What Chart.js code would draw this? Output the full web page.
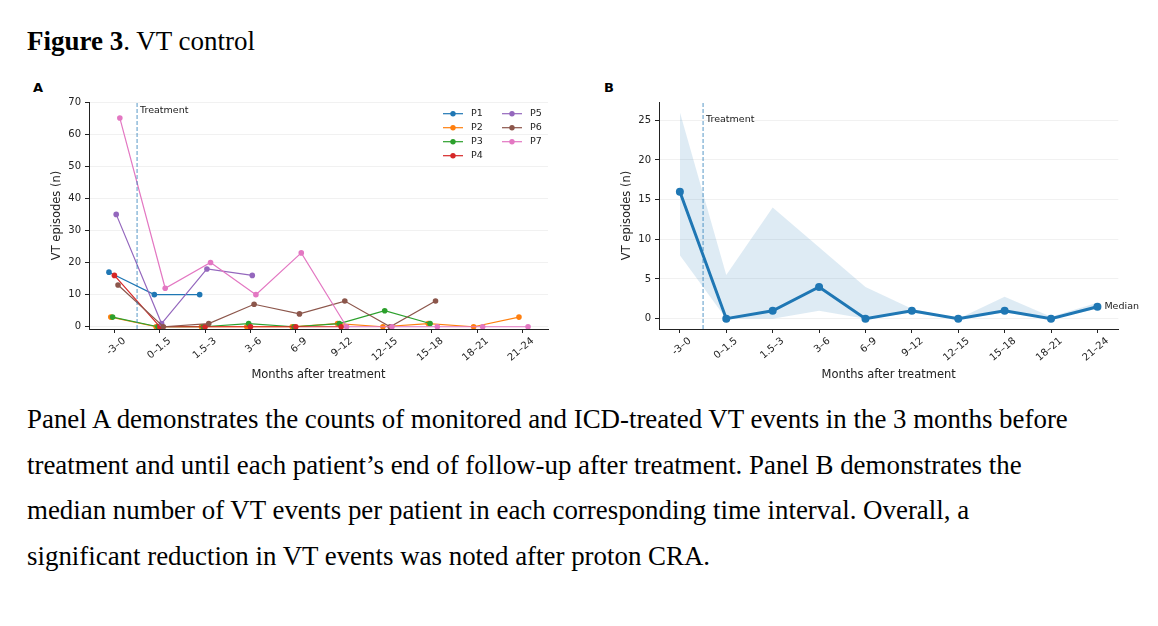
<!DOCTYPE html>
<html>
<head>
<meta charset="utf-8">
<script src="https://cdn.jsdelivr.net/npm/chart.js@4.4.1/dist/chart.umd.min.js"></script>
<style>
  body { margin: 0; background: #fff; width: 1158px; height: 626px; position: relative; overflow: hidden; }
  .fig-title { position: absolute; left: 27px; top: 28px; font-family: "Liberation Serif", serif; font-size: 27px; line-height: 27px; color: #000; white-space: nowrap; }
  .caption { position: absolute; left: 27px; top: 397px; font-family: "Liberation Serif", serif; font-size: 26.9px; line-height: 45.7px; color: #000; white-space: nowrap; }
  .panel-letter { position: absolute; top: 81px; font-family: "DejaVu Sans", sans-serif; font-weight: bold; font-size: 13px; line-height: 13px; }
  .box { position: absolute; top: 92px; width: 540px; height: 296px; }
</style>
</head>
<body>
<div class="fig-title"><b>Figure 3</b>. VT control</div>
<div class="panel-letter" style="left:33px">A</div>
<div class="panel-letter" style="left:604px">B</div>
<div class="box" style="left:30px"><canvas id="chartA"></canvas></div>
<div class="box" style="left:600px"><canvas id="chartB"></canvas></div>
<div class="caption">
Panel A demonstrates the counts of monitored and ICD-treated VT events in the 3 months before<br>
treatment and until each patient’s end of follow-up after treatment. Panel B demonstrates the<br>
median number of VT events per patient in each corresponding time interval. Overall, a<br>
significant reduction in VT events was noted after proton CRA.
</div>
<script>
// time windows (months relative to treatment)
const months = ['-3–0', '0–1.5', '1.5–3', '3–6', '6–9', '9–12', '12–15', '15–18', '18–21', '21–24'];

// panel A: VT episodes per patient, until end of follow-up
const patients = ['P1', 'P2', 'P3', 'P4', 'P5', 'P6', 'P7'];
const p1 = [17, 10, 10];
const p2 = [3, 0, 0, 0, 0, 1, 0, 1, 0, 3];
const p3 = [3, 0, 0, 1, 0, 1, 5, 1];
const p4 = [16, 0, 0, 0, 0, 0];
const p5 = [35, 1, 18, 16];
const p6 = [13, 0, 1, 7, 4, 8, 0, 8];
const p7 = [65, 12, 20, 10, 23, 0, 0, 0, 0, 0];
const yTicksA = [0, 10, 20, 30, 40, 50, 60, 70];

// panel B: median and spread across patients
const medianVT = [16, 0, 1, 4, 0, 1, 0, 1, 0, 1.5];
const upperVT = [26, 5.5, 14, 9, 4, 1.25, 0, 2.75, 0.25, 2];
const lowerVT = [8, 0, 0, 1, 0, 0.75, 0, 0.75, 0, 1.25];
const yTicksB = [0, 5, 10, 15, 20, 25];

const treatmentAt = 0.5;

const colors = ['#1f77b4', '#ff7f0e', '#2ca02c', '#d62728', '#9467bd', '#8c564b', '#e377c2'];
const FONT = '"DejaVu Sans", sans-serif';
const INK = '#222';

function xScale(min, max) {
  return {
    type: 'linear',
    min, max,
    afterBuildTicks: s => { s.ticks = months.map((_, i) => ({ value: i })); },
    afterFit: s => { s.height = 59; },
    ticks: {
      callback: v => months[v],
      autoSkip: false,
      minRotation: 40, maxRotation: 40,
      labelOffset: 10,
      padding: 2,
      color: INK,
      font: { family: FONT, size: 10 },
    },
    grid: { drawOnChartArea: false, tickLength: 4, tickColor: INK },
    border: { color: INK, width: 1 },
    title: {
      display: true, text: 'Months after treatment', color: INK,
      font: { family: FONT, size: 11.5 }, padding: { top: 0, bottom: 6 },
    },
  };
}

function yScale(min, max, tickVals) {
  return {
    type: 'linear',
    min, max,
    afterBuildTicks: s => { s.ticks = tickVals.map(v => ({ value: v })); },
    afterFit: s => { s.width = 59; },
    ticks: { color: INK, font: { family: FONT, size: 10 }, padding: 4 },
    grid: { color: '#f1f1f1', tickLength: 4, tickColor: INK },
    border: { color: INK, width: 1 },
    title: {
      display: true, text: 'VT episodes (n)', color: INK,
      font: { family: FONT, size: 11.5 }, padding: { top: 20, bottom: 0 },
    },
  };
}

function treatmentLine(yMin, yMax, order) {
  return {
    label: 'treatment',
    data: [{ x: treatmentAt, y: yMin }, { x: treatmentAt, y: yMax }],
    borderColor: 'rgba(31,119,180,0.75)',
    borderWidth: 1,
    borderDash: [4, 2],
    pointRadius: 0,
    order,
  };
}

// "Treatment" text next to the dashed line
function treatmentText(yVal) {
  return {
    id: 'treatmentText',
    afterDatasetsDraw(chart) {
      const { ctx, scales } = chart;
      ctx.save();
      ctx.font = `9.5px ${FONT}`;
      ctx.fillStyle = INK;
      ctx.textBaseline = 'middle';
      ctx.fillText('Treatment', scales.x.getPixelForValue(treatmentAt) + 3, scales.y.getPixelForValue(yVal));
      ctx.restore();
    },
  };
}

// two-column legend (P1-P4 | P5-P7), like the matplotlib one
const legendA = {
  id: 'legendA',
  afterDraw(chart) {
    const { ctx, chartArea } = chart;
    ctx.save();
    ctx.font = `9.5px ${FONT}`;
    ctx.textBaseline = 'middle';
    chart.data.datasets.forEach((ds, i) => {
      if (!patients.includes(ds.label)) return;
      const col = i < 4 ? 0 : 1;
      const row = i < 4 ? i : i - 4;
      const x = chartArea.right - 105 + col * 59;
      const y = chartArea.top + 11.7 + row * 14;
      ctx.strokeStyle = ds.borderColor;
      ctx.lineWidth = 1.2;
      ctx.beginPath();
      ctx.moveTo(x, y);
      ctx.lineTo(x + 20, y);
      ctx.stroke();
      ctx.fillStyle = ds.borderColor;
      ctx.beginPath();
      ctx.arc(x + 10, y, 2.7, 0, Math.PI * 2);
      ctx.fill();
      ctx.fillStyle = INK;
      ctx.fillText(ds.label, x + 28, y);
    });
    ctx.restore();
  },
};

const medianText = {
  id: 'medianText',
  afterDatasetsDraw(chart) {
    const { ctx, scales } = chart;
    const last = medianVT.length - 1;
    ctx.save();
    ctx.font = `9.5px ${FONT}`;
    ctx.fillStyle = INK;
    ctx.textBaseline = 'middle';
    ctx.fillText('Median', scales.x.getPixelForValue(last) + 7, scales.y.getPixelForValue(medianVT[last]));
    ctx.restore();
  },
};

const baseOptions = {
  animation: false,
  responsive: true,
  maintainAspectRatio: false,
  events: [],
  plugins: { legend: { display: false }, tooltip: { enabled: false } },
  elements: { line: { tension: 0 } },
};

// panel A
const seriesA = [p1, p2, p3, p4, p5, p6, p7];
const yMinA = -0.7, yMaxA = 70;

new Chart(document.getElementById('chartA'), {
  type: 'line',
  data: {
    datasets: [
      ...seriesA.map((vals, i) => ({
        label: patients[i],
        data: vals.map((v, j) => ({ x: j + (i - 3) * 0.04, y: v })),
        borderColor: colors[i],
        backgroundColor: colors[i],
        borderWidth: 1.2,
        pointRadius: 2.8,
        pointBorderWidth: 0,
        order: 7 - i,
      })),
      treatmentLine(yMinA, yMaxA, 0),
    ],
  },
  options: {
    ...baseOptions,
    layout: { padding: { top: 9, right: 22, left: 0, bottom: 0 } },
    scales: { x: xScale(-0.56, 9.56), y: yScale(yMinA, yMaxA, yTicksA) },
  },
  plugins: [legendA, treatmentText(67.3)],
});

// panel B
const yMinB = -1.3, yMaxB = 27.3;

new Chart(document.getElementById('chartB'), {
  type: 'line',
  data: {
    datasets: [
      {
        label: 'upper',
        data: upperVT.map((v, i) => ({ x: i, y: v })),
        borderWidth: 0,
        pointRadius: 0,
        backgroundColor: 'rgba(31,119,180,0.15)',
        fill: '+1',
        order: 4,
      },
      {
        label: 'lower',
        data: lowerVT.map((v, i) => ({ x: i, y: v })),
        borderWidth: 0,
        pointRadius: 0,
        fill: false,
        order: 5,
      },
      {
        label: 'Median',
        data: medianVT.map((v, i) => ({ x: i, y: v })),
        borderColor: '#1f77b4',
        backgroundColor: '#1f77b4',
        borderWidth: 3,
        pointRadius: 4,
        pointBorderWidth: 0,
        order: 1,
      },
      treatmentLine(yMinB, yMaxB, 2),
    ],
  },
  options: {
    ...baseOptions,
    layout: { padding: { top: 8, right: 21.7, left: 0, bottom: 0 } },
    scales: { x: xScale(-0.45, 9.45), y: yScale(yMinB, yMaxB, yTicksB) },
  },
  plugins: [medianText, treatmentText(25.1)],
});
</script>
</body>
</html>
